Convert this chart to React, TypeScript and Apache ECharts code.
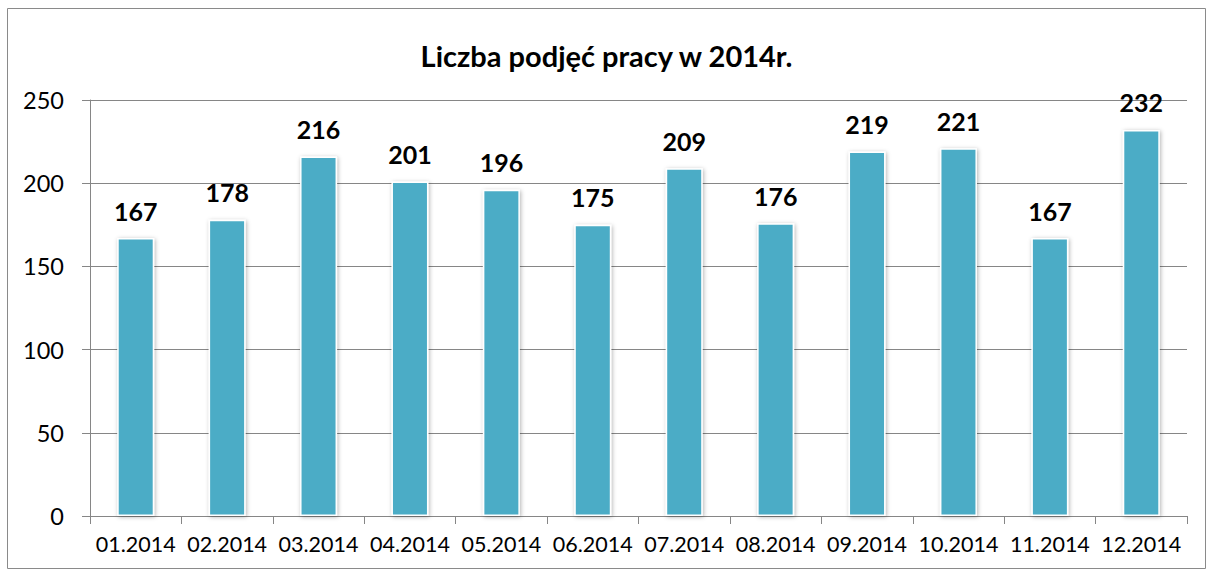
import React, { useEffect, useRef } from "react";
import * as echarts from "echarts";

const title = "Liczba podjęć pracy w 2014r.";
const categories = ["01.2014", "02.2014", "03.2014", "04.2014", "05.2014", "06.2014", "07.2014", "08.2014", "09.2014", "10.2014", "11.2014", "12.2014"];
const values = [167, 178, 216, 201, 196, 175, 209, 176, 219, 221, 167, 232];

export default function App() {
  const ref = useRef<HTMLDivElement>(null);
  useEffect(() => {
    if (!ref.current) return;
    const chart = echarts.init(ref.current, null, { renderer: "svg" });
    const font = "Lato, 'Open Sans', sans-serif";
    chart.setOption({
      animation: false,
      backgroundColor: "#fff",
      title: {
        text: title,
        left: "center",
        top: 36,
        textStyle: { fontFamily: font, fontSize: 29, fontWeight: "bold", color: "#000" },
      },
      graphic: [
        {
          type: "rect",
          shape: { x: 7.5, y: 8.5, width: 1198, height: 560 },
          style: { fill: "none", stroke: "#8a8a8a", lineWidth: 1 },
          silent: true,
        },
      ],
      grid: { left: 90, right: 26, top: 100, bottom: 60 },
      xAxis: {
        type: "category",
        data: categories,
        axisLine: { show: true, lineStyle: { color: "#868686", width: 1 } },
        axisTick: { show: true, length: 8, lineStyle: { color: "#868686" } },
        axisLabel: { interval: 0, fontFamily: font, fontSize: 21.5, color: "#000", margin: 17 },
      },
      yAxis: {
        type: "value",
        min: 0,
        max: 250,
        interval: 50,
        axisLine: { show: true, lineStyle: { color: "#868686", width: 1 } },
        axisTick: { show: true, length: 8, lineStyle: { color: "#868686" } },
        splitLine: { show: true, lineStyle: { color: "#868686", width: 1 } },
        axisLabel: { fontFamily: font, fontSize: 23.5, color: "#000", margin: 26 },
      },
      series: [
        {
          type: "bar",
          data: values,
          barWidth: 37,
          itemStyle: {
            color: "#4BACC6",
            borderColor: "#ffffff",
            borderWidth: 1.5,
            shadowBlur: 4,
            shadowColor: "rgba(0,0,0,0.3)",
            shadowOffsetX: 1,
            shadowOffsetY: 1,
          },
          label: {
            show: true,
            position: "top",
            distance: 15,
            fontFamily: font,
            fontSize: 25,
            fontWeight: "bold",
            color: "#000",
          },
        },
      ],
    });
    return () => chart.dispose();
  }, []);
  return <div ref={ref} style={{ position: "absolute", left: 0, top: 0, width: 1213, height: 576 }} />;
}
